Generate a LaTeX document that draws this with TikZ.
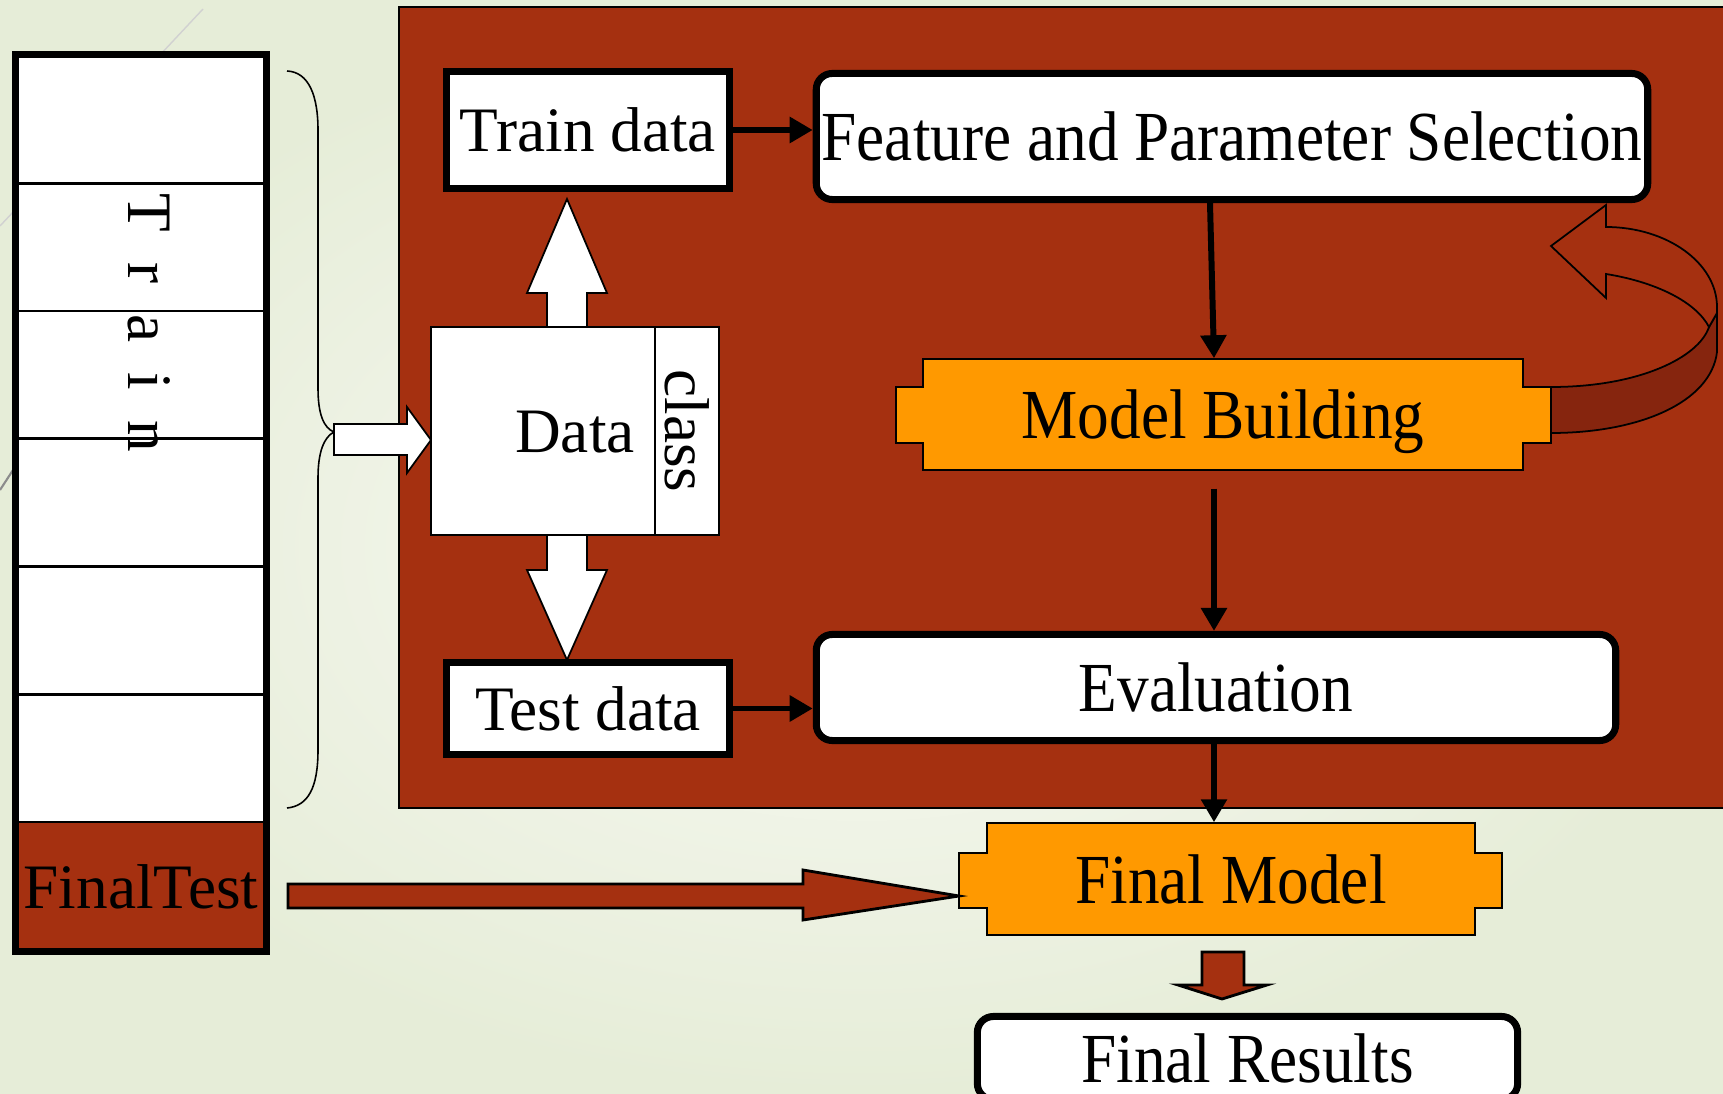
\documentclass[tikz,border=0pt]{standalone}
\usepackage{fontspec}
\setmainfont{Liberation Serif}
\usepackage{graphicx}
\usetikzlibrary{arrows.meta, calc}

\definecolor{rust}{RGB}{165,48,16}
\definecolor{rustdark}{RGB}{134,37,14}
\definecolor{amber}{RGB}{255,153,0}
\definecolor{paleout}{RGB}{230,237,216}
\definecolor{palein}{RGB}{249,250,245}

\newcommand{\narrowtext}[1]{\scalebox{0.9}[1]{#1}}
\newcommand{\gap}{\hspace{0.48em}}

\begin{document}
\begin{tikzpicture}[x=0.01cm, y=-0.01cm,
  font=\fontsize{18}{20}\selectfont,
  big/.style={font=\fontsize{20}{24}\selectfont},
  thinline/.style={line width=0.5pt},
  plainbox/.style={draw, line width=2pt, fill=white, inner sep=0pt, text depth=0pt},
  roundbox/.style={plainbox, rounded corners=0.16cm, big},
  cell/.style={draw, thinline, fill=white, inner sep=0pt, text depth=0pt},
  tabbox/.style={draw, thinline, fill=amber},
  whiteblock/.style={draw, thinline, fill=white},
  rustblock/.style={draw, line width=0.8pt, fill=rust},
  conn/.style={line width=1.7pt, -{Triangle[length=0.23cm, width=0.25cm]}}]

\useasboundingbox (0,0) rectangle (1723,1094);
\clip (0,0) rectangle (1723,1094);

% backdrop
\shade[inner color=palein, outer color=paleout] (0,0) rectangle (1723,1094);
\draw[black!18, line width=0.4pt] (203,9) -- (0,226);
\draw[black!45, line width=0.6pt] (15,467) -- (0,490);

% folds column
\node[fill=white, inner sep=0pt, minimum width=2.49cm, minimum height=8.95cm] (column) at (141,503) {};
\node[fill=rust, inner sep=0pt, text depth=0pt, minimum width=2.49cm, minimum height=1.285cm] (finaltest) at (141,886.25) {FinalTest};
\foreach \i in {1,...,6}
  \draw[line width=0.75pt] (16.5,{55.5+127.75*\i}) -- (265.5,{55.5+127.75*\i});
\draw[line width=2pt] (column.north west) rectangle (column.south east);
\node[rotate=-90, inner sep=0pt, text depth=0pt] (trainlbl) at (149.5,323) {T\gap r\gap a\gap i\gap n};

% brace over the training folds
\draw[line width=0.45pt] (287,71) .. controls (309,72) and (318,96) .. (318,130)
  -- (318,388) .. controls (318,415) and (324,428) .. (334,432)
  .. controls (324,437) and (318,452) .. (318,478)
  -- (318,750) .. controls (318,788) and (308,806) .. (287,808);

% selection panel
\draw[thinline, fill=rust] (399,7) rectangle (1740,808);

\draw[whiteblock] (334,424) -- (407,424) -- (407,407) -- (431,440) -- (407,473) -- (407,455) -- (334,455) -- cycle;
\draw[whiteblock] (547,327) -- (547,293) -- (527,293) -- (567,199) -- (607,293) -- (587,293) -- (587,327) -- cycle;
\draw[whiteblock] (547,535) -- (547,570) -- (527,570) -- (567,660) -- (607,570) -- (587,570) -- (587,535) -- cycle;

\node[cell, minimum width=2.24cm, minimum height=2.08cm] (data) at (543,431) {};
\node[cell, rotate=-90, minimum width=2.08cm, minimum height=0.64cm] (cls) at (687,431) {class};
\node[inner sep=0pt, text depth=0pt] (datalbl) at (575,432) {Data};

\node[plainbox, minimum width=2.83cm, minimum height=1.17cm] (train) at (588,130) {Train data};
\node[plainbox, minimum width=2.83cm, minimum height=0.92cm] (test) at (588,708.5) {Test data};

\node[roundbox, minimum width=8.31cm, minimum height=1.26cm] (fps) at (1232,136.5) {\narrowtext{Feature and Parameter Selection}};
\node[roundbox, minimum width=7.99cm, minimum height=1.06cm] (eval) at (1216,687.5) {\narrowtext{Evaluation}};

% loop back from model building to the selection step
\draw[thinline, fill=rustdark] (1551,387) .. controls (1640,387) and (1699,357) .. (1709,327)
  -- (1717,313) -- (1717,352) .. controls (1711,402) and (1640,433) .. (1551,433) -- cycle;
\draw[thinline, fill=rust] (1606,227) -- (1606,205) -- (1551,246) -- (1606,298) -- (1606,274)
  .. controls (1656,282) and (1696,302) .. (1709,327) -- (1717,313) -- (1717,307)
  .. controls (1717,263) and (1667,227) .. (1606,227) -- cycle;

\draw[tabbox] (923,359) -- (1523,359) -- (1523,387) -- (1551,387) -- (1551,443) -- (1523,443)
  -- (1523,470) -- (923,470) -- (923,443) -- (896,443) -- (896,387) -- (923,387) -- cycle;
\node[big, inner sep=0pt, text depth=0pt, minimum width=6cm, minimum height=1.11cm] (build) at (1223,414.5) {\narrowtext{Model Building}};

\draw[tabbox] (987,823) -- (1475,823) -- (1475,853) -- (1502,853) -- (1502,908) -- (1475,908)
  -- (1475,935) -- (987,935) -- (987,908) -- (959,908) -- (959,853) -- (987,853) -- cycle;
\node[big, inner sep=0pt, text depth=0pt, minimum width=4.88cm, minimum height=1.12cm] (final) at (1231,879) {\narrowtext{Final Model}};

\draw[rustblock] (288,884) -- (803,884) -- (803,870) -- (959,896) -- (803,920) -- (803,908) -- (288,908) -- cycle;
\draw[rustblock] (1202,952) -- (1244,952) -- (1244,985) -- (1267,985) -- (1222,999) -- (1178,985) -- (1202,985) -- cycle;

\node[roundbox, minimum width=5.40cm, minimum height=0.83cm] (results) at (1247.5,1058) {\narrowtext{Final Results}};

% connectors
\coordinate (spine) at (1214,0);
\draw[conn] (train.east) -- (train.east -| fps.west);
\draw[conn] (test.east) -- (test.east -| eval.west);
\draw[conn] ($(fps.south -| spine)+(-4,0)$) -- (build.north -| spine);
\draw[conn] ($(build.south -| spine)+(0,18)$) -- (eval.north -| spine);
\draw[conn] (eval.south -| spine) -- (final.north -| spine);

\end{tikzpicture}
\end{document}
